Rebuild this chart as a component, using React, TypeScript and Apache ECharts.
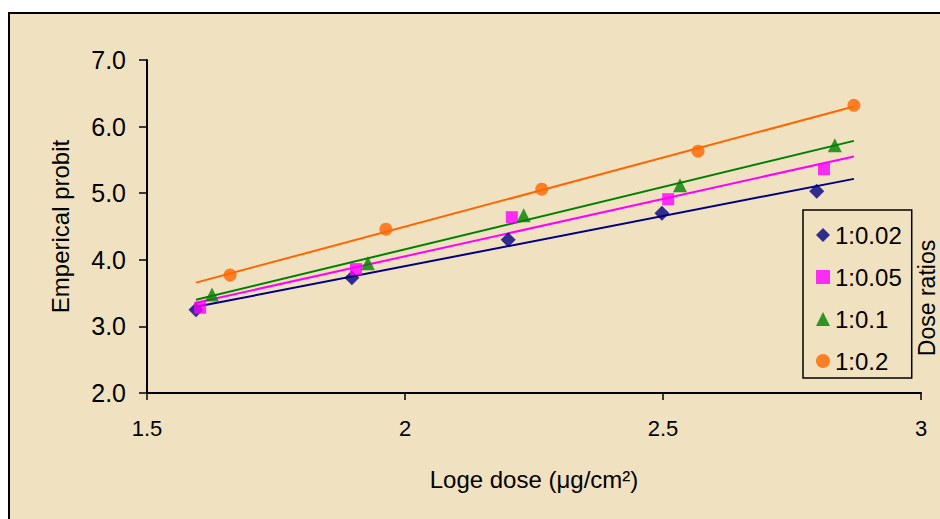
import React, { useEffect, useRef } from "react";
import * as echarts from "echarts";

const seriesNames = ["1:0.02", "1:0.05", "1:0.1", "1:0.2"];
const x002 = [1.595, 1.897, 2.2, 2.498, 2.798];
const y002 = [3.25, 3.73, 4.3, 4.7, 5.03];
const x005 = [1.603, 1.905, 2.207, 2.51, 2.812];
const y005 = [3.28, 3.86, 4.64, 4.91, 5.36];
const x01 = [1.626, 1.928, 2.23, 2.533, 2.833];
const y01 = [3.48, 3.95, 4.67, 5.12, 5.72];
const x02 = [1.661, 1.963, 2.265, 2.568, 2.87];
const y02 = [3.77, 4.46, 5.06, 5.63, 6.32];

const colors = ["#000080", "#FF00FF", "#008000", "#FF6600"];
const symbols = ["diamond", "rect", "triangle", "circle"];
const symbolSizes = [15, 12, 14, 13];

const FONT = "'Liberation Sans', Arial, sans-serif";

function regress(xs: number[], ys: number[]) {
  const n = xs.length;
  const mx = xs.reduce((a, b) => a + b, 0) / n;
  const my = ys.reduce((a, b) => a + b, 0) / n;
  let sxy = 0;
  let sxx = 0;
  for (let i = 0; i < n; i++) {
    sxy += (xs[i] - mx) * (ys[i] - my);
    sxx += (xs[i] - mx) * (xs[i] - mx);
  }
  const slope = sxy / sxx;
  return { slope, intercept: my - slope * mx };
}

export default function App() {
  const ref = useRef<HTMLDivElement>(null);
  useEffect(() => {
    if (!ref.current) return;
    const chart = echarts.init(ref.current, undefined, { renderer: "svg" });
    const xs = [x002, x005, x01, x02];
    const ys = [y002, y005, y01, y02];
    const allX = xs.flat();
    const tMin = Math.min(...allX);
    const tMax = Math.max(...allX);

    const scatterSeries = seriesNames.map((name, i) => ({
      name,
      type: "scatter",
      data: xs[i].map((x, j) => [x, ys[i][j]]),
      symbol: symbols[i],
      symbolSize: symbolSizes[i],
      itemStyle: { color: colors[i] },
      z: 3,
    }));
    const trendSeries = seriesNames.map((name, i) => {
      const r = regress(xs[i], ys[i]);
      return {
        name: name + " trend",
        type: "line",
        data: [
          [tMin, r.intercept + r.slope * tMin],
          [tMax, r.intercept + r.slope * tMax],
        ],
        showSymbol: false,
        symbol: "none",
        lineStyle: { color: colors[i], width: 2 },
        silent: true,
        z: 2,
      };
    });

    chart.setOption({
      animation: false,
      backgroundColor: "#F0E1C1",
      textStyle: { fontFamily: FONT },
      grid: { left: 147, top: 60, right: 19, bottom: 126, containLabel: false },
      legend: {
        data: seriesNames,
        orient: "vertical",
        left: 803,
        top: 210,
        itemWidth: 14,
        itemHeight: 14,
        itemGap: 18,
        padding: [13, 10, 5, 13],
        borderColor: "#000",
        borderWidth: 1.5,
        selectedMode: false,
        textStyle: { fontSize: 24, color: "#000", fontFamily: FONT },
      },
      xAxis: {
        type: "value",
        min: 1.5,
        max: 3,
        interval: 0.5,
        name: "Loge dose (μg/cm²)",
        nameLocation: "middle",
        nameGap: 74,
        nameTextStyle: { fontSize: 24, color: "#000", fontFamily: FONT },
        axisLine: { show: true, lineStyle: { color: "#000", width: 2 } },
        axisTick: { show: true, length: 7, lineStyle: { color: "#000", width: 1.5 } },
        axisLabel: { fontSize: 22, color: "#000", margin: 24, fontFamily: FONT },
        splitLine: { show: false },
      },
      yAxis: {
        type: "value",
        min: 2,
        max: 7,
        interval: 1,
        name: "Emperical probit",
        nameLocation: "middle",
        nameGap: 75,
        nameTextStyle: { fontSize: 24, color: "#000", fontFamily: FONT },
        axisLine: { show: true, lineStyle: { color: "#000", width: 2 } },
        axisTick: { show: true, length: 8, lineStyle: { color: "#000", width: 1.5 } },
        axisLabel: {
          fontSize: 25,
          color: "#000",
          margin: 21,
          fontFamily: FONT,
          formatter: (v: number) => v.toFixed(1),
        },
        splitLine: { show: false },
      },
      graphic: [
        { type: "rect", left: 0, top: 0, shape: { width: 940, height: 12 }, style: { fill: "#fff" }, z: 100 },
        { type: "rect", left: 0, top: 0, shape: { width: 8, height: 519 }, style: { fill: "#fff" }, z: 100 },
        { type: "line", shape: { x1: 8, y1: 13, x2: 940, y2: 13 }, style: { stroke: "#000", lineWidth: 2 }, z: 101 },
        { type: "line", shape: { x1: 9, y1: 12, x2: 9, y2: 519 }, style: { stroke: "#000", lineWidth: 2 }, z: 101 },
        {
          type: "text",
          x: 927,
          y: 298,
          rotation: Math.PI / 2,
          style: {
            text: "Dose ratios",
            fontSize: 23,
            fontFamily: FONT,
            fill: "#000",
            align: "center",
            verticalAlign: "middle",
          },
          z: 101,
        },
      ],
      series: [...trendSeries, ...scatterSeries],
    });
    return () => chart.dispose();
  }, []);
  return (
    <div
      ref={ref}
      style={{ position: "fixed", left: 0, top: 0, width: 940, height: 519 }}
    />
  );
}
